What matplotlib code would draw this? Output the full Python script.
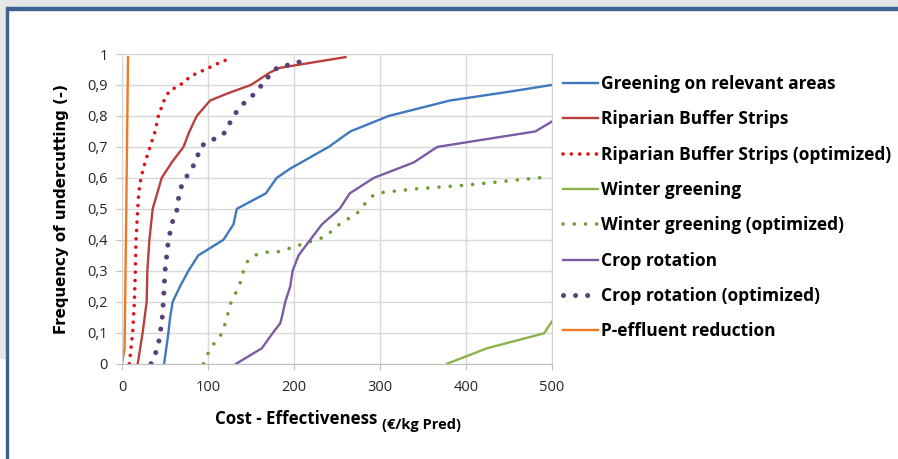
import matplotlib.pyplot as plt
from matplotlib.patches import Rectangle
from matplotlib.ticker import FuncFormatter

# Cost-effectiveness (EUR/kg P) vs. frequency of undercutting
greening_x = [49, 54, 56, 59, 67.6, 77.3, 88.9, 118, 129.7, 133.6, 167.4, 180, 195.8, 240.5, 265.7, 310.4, 382, 450, 500]
greening_y = [0, 0.1, 0.15, 0.2, 0.25, 0.3, 0.35, 0.4, 0.45, 0.5, 0.55, 0.6, 0.63, 0.7, 0.75, 0.8, 0.85, 0.878, 0.9]

riparian_x = [18.3, 24, 28.7, 29.5, 31.9, 35.7, 46.2, 57.9, 71.5, 78.5, 87, 102.6, 125, 150, 172, 183, 260]
riparian_y = [0, 0.1, 0.2, 0.3, 0.4, 0.5, 0.6, 0.65, 0.7, 0.75, 0.8, 0.85, 0.875, 0.9, 0.94, 0.955, 0.99]

riparian_opt_x = [8.5, 12.4, 14.4, 15.5, 16.3, 18.3, 19.4, 22, 26.8, 32.6, 38.5, 42.3, 49, 54.8, 67.6, 81, 96.7, 112, 125]
riparian_opt_y = [0, 0.1, 0.2, 0.3, 0.4, 0.5, 0.55, 0.6, 0.65, 0.7, 0.75, 0.8, 0.85, 0.88, 0.9, 0.93, 0.95, 0.97, 0.985]

winter_x = [378.4, 425, 491, 502.7]
winter_y = [0, 0.05, 0.098, 0.146]

winter_opt_x = [94.8, 99.4, 105.7, 117, 122, 127, 136.4, 141.4, 146, 154, 168.6, 183, 219, 236.6, 252, 275.4, 285.9, 293, 300.7, 339.6, 401.7, 498.8]
winter_opt_y = [0, 0.03, 0.06, 0.1, 0.15, 0.2, 0.25, 0.3, 0.33, 0.35, 0.36, 0.362, 0.394, 0.41, 0.448, 0.49, 0.528, 0.545, 0.552, 0.564, 0.577, 0.604]

crop_x = [132.9, 162.8, 175.6, 184, 186, 190, 195.8, 198.5, 205.5, 219, 232.7, 253.3, 265, 293, 339.6, 366.8, 481, 502]
crop_y = [0, 0.05, 0.1, 0.13, 0.15, 0.2, 0.25, 0.3, 0.35, 0.4, 0.45, 0.5, 0.55, 0.6, 0.65, 0.7, 0.75, 0.785]

crop_opt_x = [33.8, 38.5, 42.3, 44.3, 46.2, 47.4, 48.1, 50.1, 54, 59.8, 64.5, 66, 68.8, 74.2, 81.2, 87, 90.9, 101.4, 112.3, 121.2,
              125.9, 132.5, 141.4, 150.3, 158.9, 167.4, 172.5, 183.4, 195, 207.5, 219]
crop_opt_y = [0, 0.03, 0.06, 0.1, 0.13, 0.17, 0.2, 0.3, 0.4, 0.47, 0.5, 0.54, 0.57, 0.6, 0.63, 0.66, 0.7, 0.72, 0.73, 0.75,
              0.78, 0.81, 0.84, 0.86, 0.89, 0.91, 0.94, 0.96, 0.965, 0.975, 0.986]

effluent_x = [0, 3, 5, 7]
effluent_y = [0, 0.05, 0.5, 0.99]

x_ticks = [0, 100, 200, 300, 400, 500]
y_ticks = [0, 0.1, 0.2, 0.3, 0.4, 0.5, 0.6, 0.7, 0.8, 0.9, 1]

plt.rcParams['font.family'] = ['Open Sans', 'DejaVu Sans']

fig = plt.figure(figsize=(8.98, 4.59), dpi=100)

# slide frame around the chart
fig.patches.append(Rectangle((0, 1 - 7 / 459), 1, 7 / 459, transform=fig.transFigure, color='#e6e6e6', zorder=0))
fig.patches.append(Rectangle((0, 1 - 358 / 459), 6 / 898, 351 / 459, transform=fig.transFigure, color='#e6e6e6', zorder=0))
fig.patches.append(Rectangle((6 / 898, 1 - 10 / 459), 1, 3 / 459, transform=fig.transFigure, color='#3c6294', zorder=1))
fig.patches.append(Rectangle((6 / 898, 0), 2 / 898, 1 - 7 / 459, transform=fig.transFigure, color='#3c6294', zorder=1))

ax = fig.add_axes([122 / 898, 1 - 363.7 / 459, 429.7 / 898, 309.7 / 459])

ax.plot(greening_x, greening_y, color='#3e78bd', lw=1.7, label='Greening on relevant areas')
ax.plot(riparian_x, riparian_y, color='#b8403c', lw=1.7, label='Riparian Buffer Strips')
ax.plot(riparian_opt_x, riparian_opt_y, color='#e0101a', lw=2.6, linestyle=(0, (0.01, 2.3)),
        dash_capstyle='round', label='Riparian Buffer Strips (optimized)')
ax.plot(winter_x, winter_y, color='#8db24c', lw=1.7, label='Winter greening')
ax.plot(winter_opt_x, winter_opt_y, color='#6f9a34', lw=2.6, linestyle=(0, (0.01, 3.1)),
        dash_capstyle='round', label='Winter greening (optimized)')
ax.plot(crop_x, crop_y, color='#7b5ca4', lw=1.7, label='Crop rotation')
ax.plot(crop_opt_x, crop_opt_y, color='#5a3f7e', lw=3.6, linestyle=(0, (0.01, 2.4)),
        dash_capstyle='round', label='Crop rotation (optimized)')
ax.plot(effluent_x, effluent_y, color='#f07a20', lw=1.7, label='P-effluent reduction')

ax.set_xlim(0, 500)
ax.set_ylim(0, 1)
ax.set_xticks(x_ticks)
ax.set_yticks(y_ticks)
ax.yaxis.set_major_formatter(FuncFormatter(lambda v, p: ('%g' % round(v, 1)).replace('.', ',')))
ax.grid(True, color='#d9d9d9', lw=1)
ax.set_axisbelow(True)
for s in ax.spines.values():
    s.set_color('#d4d4d4')
ax.spines['bottom'].set_color('#bfbfbf')
ax.tick_params(axis='both', colors='#bfbfbf', labelcolor='#262626', labelsize=10.5, length=4)
ax.tick_params(axis='x', pad=8)
ax.tick_params(axis='y', pad=6)

ax.set_ylabel('Frequency of undercutting (-)', family='DejaVu Sans', fontweight='bold', fontsize=10.8, labelpad=13)

t1 = ax.text(0.41, -0.195, 'Cost - Effectiveness ', transform=ax.transAxes, ha='center', va='baseline',
             fontsize=12.2, fontweight='bold')
ax.annotate('(€/kg Pred)', xy=(1, 0), xycoords=t1, va='top', ha='left', fontsize=10.5, fontweight='bold',
            xytext=(0, 7), textcoords='offset points')

leg = ax.legend(loc='upper left', bbox_to_anchor=(1.01, 0.955), frameon=False,
                prop={'weight': 'bold', 'size': 12.5}, handlelength=2.0, handletextpad=0.2, labelspacing=1.0,
                borderaxespad=0)

fig.savefig('out.png', dpi=100)
